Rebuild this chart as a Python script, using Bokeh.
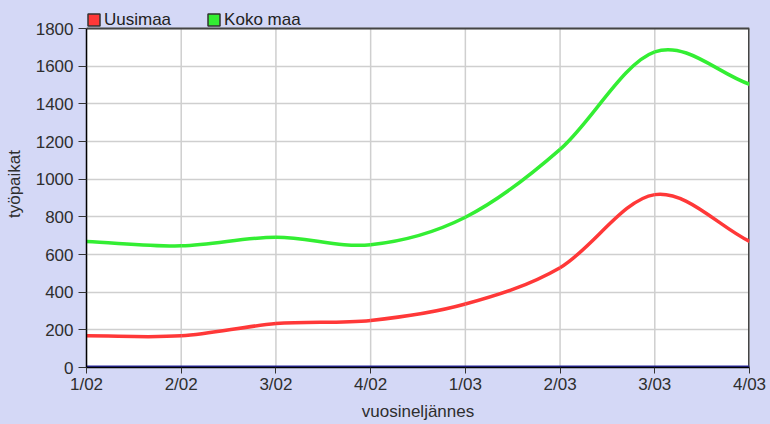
from bokeh.plotting import figure
from bokeh.models import FixedTicker, Legend, LegendItem, ColumnDataSource, Range1d
from bokeh.embed import file_html
from bokeh.resources import INLINE

# ---- data ----
quarters = ["1/02", "2/02", "3/02", "4/02", "1/03", "2/03", "3/03", "4/03"]
uusimaa = [168, 168, 233, 250, 337, 530, 918, 670]
koko_maa = [669, 646, 692, 652, 798, 1158, 1676, 1504]
other = [0, 0, 0, 0, 0, 0, 0, 0]
y_ticks = [0, 200, 400, 600, 800, 1000, 1200, 1400, 1600, 1800]

BG = "#D4D8F6"
FONT = "Liberation Sans"
TXT = "#2E2E2E"

# layout: the frame runs from the top of the canvas down to the x axis,
# so that the legend (drawn inside the frame) is not clipped
W, H = 770, 424
BORDER_L, BORDER_R, BORDER_B = 86, 21, 57
PLOT_TOP_PX = 28                      # where the value 1800 sits
frame_px = H - BORDER_B
y_top = y_ticks[-1] * frame_px / (frame_px - PLOT_TOP_PX)
x_last = len(quarters) - 1


def spline_source(ys):
    """Cubic (Catmull-Rom) bezier segments through the data points."""
    n = len(ys)
    xs = list(range(n))
    m = []
    for i in range(n):
        if i == 0:
            m.append(ys[1] - ys[0])
        elif i == n - 1:
            m.append(ys[-1] - ys[-2])
        else:
            m.append((ys[i + 1] - ys[i - 1]) / 2.0)
    d = dict(x0=[], y0=[], x1=[], y1=[], cx0=[], cy0=[], cx1=[], cy1=[])
    for i in range(n - 1):
        dx = xs[i + 1] - xs[i]
        d["x0"].append(xs[i]); d["y0"].append(ys[i])
        d["x1"].append(xs[i + 1]); d["y1"].append(ys[i + 1])
        d["cx0"].append(xs[i] + dx / 3.0); d["cy0"].append(ys[i] + m[i] / 3.0)
        d["cx1"].append(xs[i + 1] - dx / 3.0); d["cy1"].append(ys[i + 1] - m[i + 1] / 3.0)
    return ColumnDataSource(d)


p = figure(width=W, height=H, output_backend="svg", toolbar_location=None,
           x_range=Range1d(0, x_last), y_range=Range1d(0, y_top),
           min_border_left=BORDER_L, min_border_right=BORDER_R, min_border_top=0,
           min_border_bottom=BORDER_B)
p.background_fill_color = BG
p.border_fill_color = BG
p.outline_line_color = None

# white plotting area
p.quad(left=[0], right=[x_last], bottom=[y_ticks[0]], top=[y_ticks[-1]],
       fill_color="white", line_color=None, level="image")

# grid
p.xgrid.visible = False
p.ygrid.grid_line_color = "#CFCFCF"
p.ygrid.grid_line_width = 1.5
tick_x = list(range(len(quarters)))
p.segment(x0=tick_x, y0=[y_ticks[0]] * len(tick_x), x1=tick_x, y1=[y_ticks[-1]] * len(tick_x),
          line_color="#CFCFCF", line_width=1.5, level="underlay")

# axes
p.xaxis.ticker = FixedTicker(ticks=tick_x)
p.xaxis.major_label_overrides = {i: q for i, q in enumerate(quarters)}
p.yaxis.ticker = FixedTicker(ticks=y_ticks)
p.yaxis.bounds = (y_ticks[0], y_ticks[-1])
for ax in (p.xaxis[0], p.yaxis[0]):
    ax.axis_line_color = "black"
    ax.axis_line_width = 1.5
    ax.major_tick_line_color = "#333333"
    ax.major_tick_in = 0
    ax.minor_tick_line_color = None
    ax.major_label_text_font = FONT
    ax.major_label_text_font_size = "17px"
    ax.major_label_text_color = TXT
    ax.axis_label_text_font = FONT
    ax.axis_label_text_font_size = "17px"
    ax.axis_label_text_font_style = "normal"
    ax.axis_label_text_color = TXT
p.xaxis.major_tick_out = 6
p.yaxis.major_tick_out = 8
p.xaxis.major_label_standoff = 1
p.yaxis.major_label_standoff = 5
p.xaxis.axis_label = "vuosineljännes"
p.yaxis.axis_label = "työpaikat"
p.xaxis.axis_label_standoff = 5
p.yaxis.axis_label_standoff = 9

# top and right border of the plotting area
p.line([0, x_last], [y_ticks[-1], y_ticks[-1]], line_color="#444444", line_width=2)
p.line([x_last, x_last], [y_ticks[0], y_ticks[-1]], line_color="#444444", line_width=3)

# series
p.line(tick_x, other, line_color="#2A2AA0", line_width=4)
p.bezier(x0="x0", y0="y0", x1="x1", y1="y1", cx0="cx0", cy0="cy0", cx1="cx1", cy1="cy1",
         source=spline_source(uusimaa), line_color="#FF3838", line_width=3.5)
p.bezier(x0="x0", y0="y0", x1="x1", y1="y1", cx0="cx0", cy0="cy0", cx1="cx1", cy1="cy1",
         source=spline_source(koko_maa), line_color="#33EE33", line_width=3.5)

# legend swatches (placed outside the visible ranges, only used by the legend)
r_u = p.quad(left=[-3], right=[-2], top=[-2], bottom=[-3],
             fill_color="#FF3838", line_color="#333333", line_width=1.5)
r_k = p.quad(left=[-3], right=[-2], top=[-2], bottom=[-3],
             fill_color="#33EE33", line_color="#333333", line_width=1.5)
legend = Legend(items=[LegendItem(label="Uusimaa", renderers=[r_u]),
                       LegendItem(label="Koko maa", renderers=[r_k])],
                location=(0, frame_px - 29.5), orientation="horizontal",
                background_fill_alpha=0, border_line_color=None,
                padding=0, margin=0, spacing=35, glyph_width=15, glyph_height=15,
                label_standoff=3, label_height=15,
                label_text_font=FONT, label_text_font_size="17px", label_text_color="#222222")
p.add_layout(legend)

html = file_html(p, INLINE)
html = html.replace("<head>", "<head><style>html,body{background:%s;}</style>" % BG, 1)
open("out.html", "w").write(html)
